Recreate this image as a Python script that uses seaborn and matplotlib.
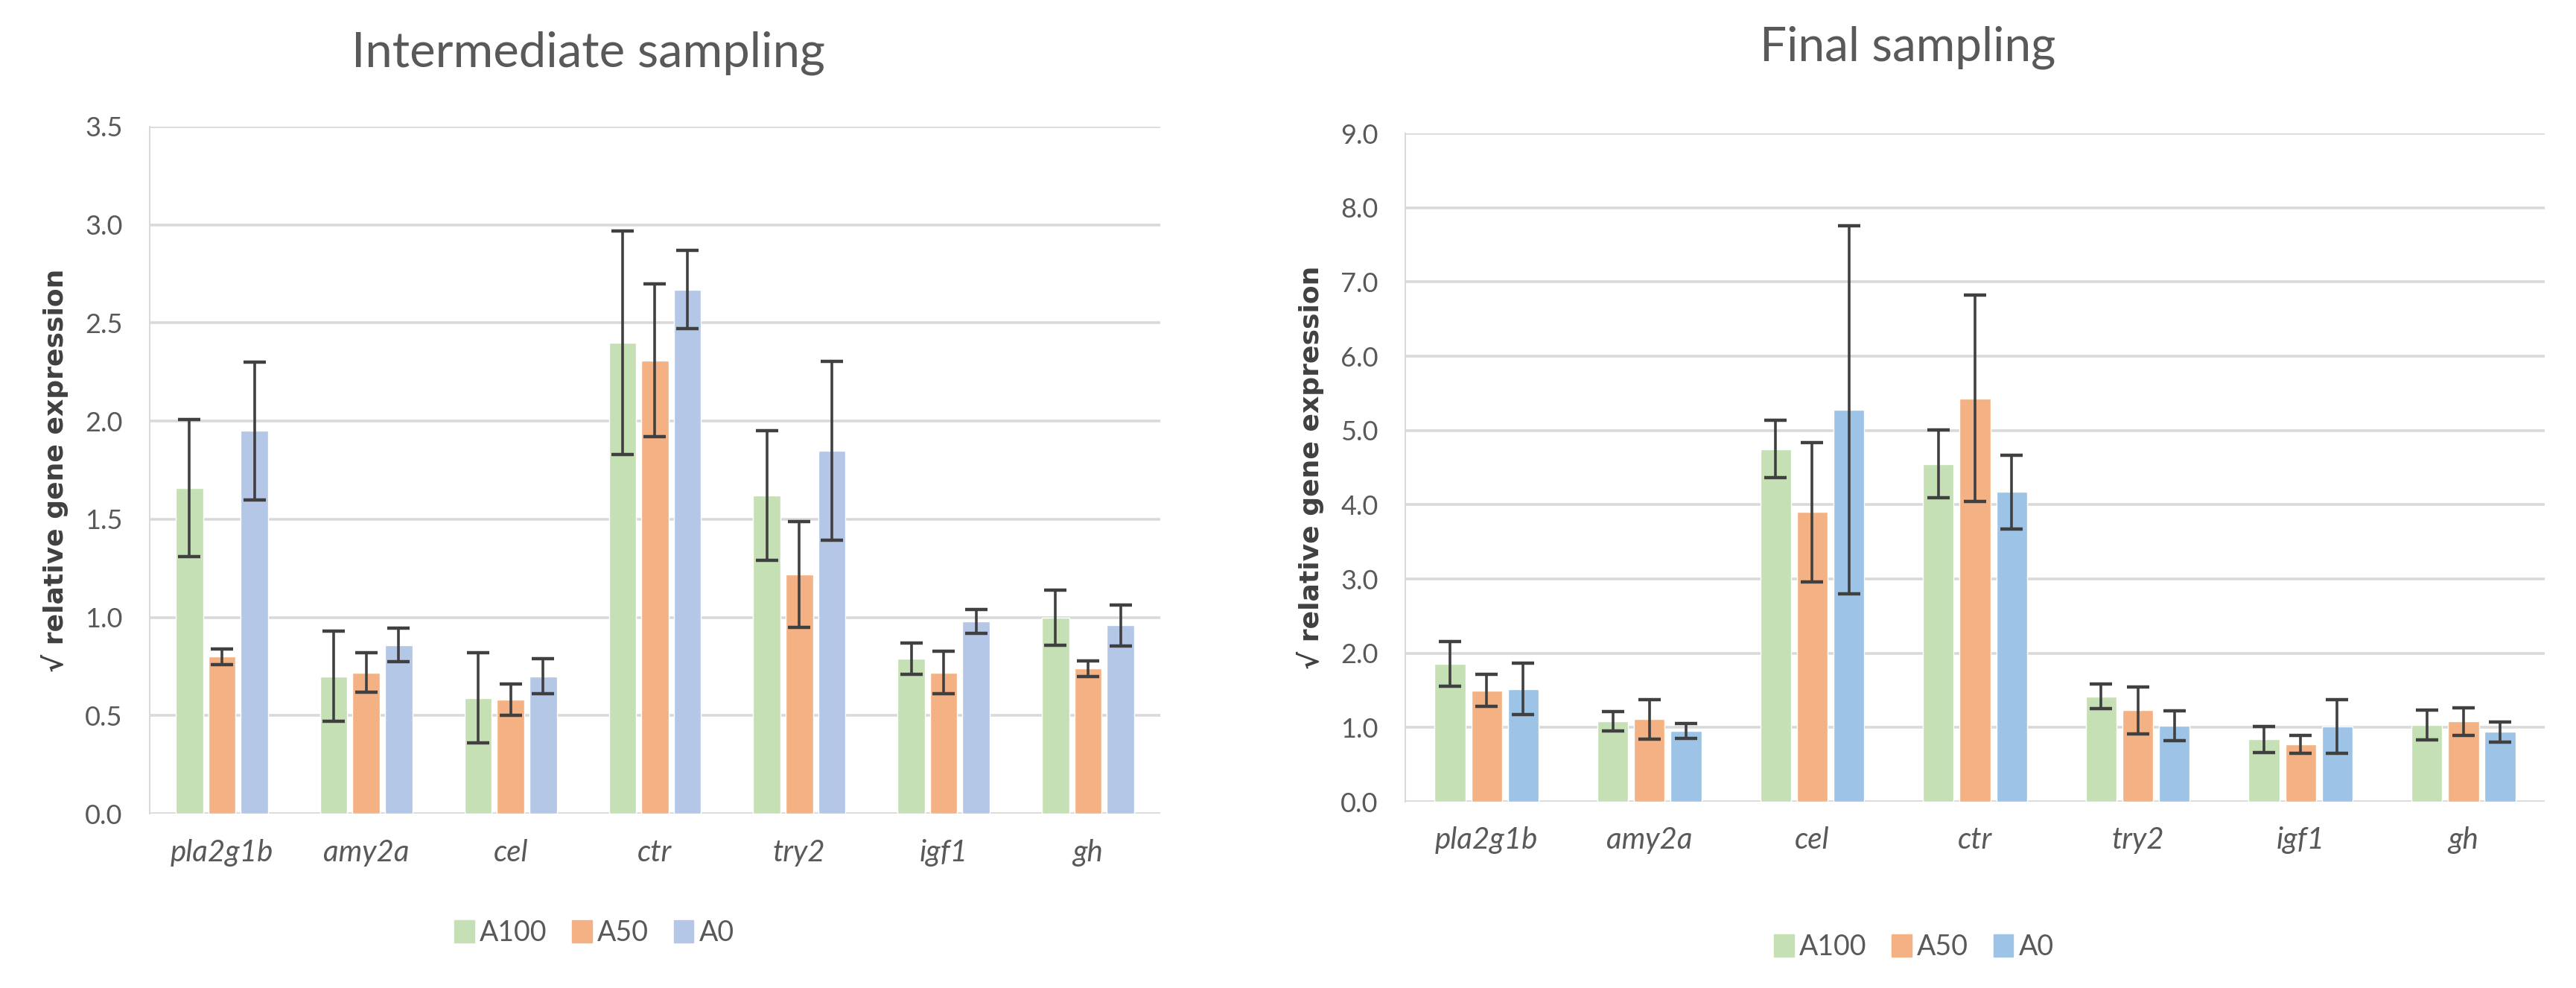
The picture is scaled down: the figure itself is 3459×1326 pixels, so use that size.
import matplotlib
matplotlib.use("Agg")
import matplotlib.pyplot as plt
import pandas as pd
import seaborn as sns

GENES = ["pla2g1b", "amy2a", "cel", "ctr", "try2", "igf1", "gh"]
GROUPS = ["A100", "A50", "A0"]

# intermediate sampling: means and error (symmetric) per group
INTER_A100 = [1.66, 0.70, 0.59, 2.40, 1.62, 0.79, 1.00]
INTER_A50 = [0.80, 0.72, 0.58, 2.31, 1.22, 0.72, 0.74]
INTER_A0 = [1.95, 0.86, 0.70, 2.67, 1.85, 0.98, 0.96]
INTER_A100_ERR = [0.35, 0.23, 0.23, 0.57, 0.33, 0.08, 0.14]
INTER_A50_ERR = [0.04, 0.10, 0.08, 0.39, 0.27, 0.11, 0.04]
INTER_A0_ERR = [0.35, 0.085, 0.09, 0.20, 0.455, 0.06, 0.105]

# final sampling
FINAL_A100 = [1.86, 1.08, 4.75, 4.55, 1.42, 0.84, 1.03]
FINAL_A50 = [1.50, 1.11, 3.90, 5.43, 1.23, 0.77, 1.08]
FINAL_A0 = [1.52, 0.95, 5.28, 4.17, 1.02, 1.01, 0.94]
FINAL_A100_ERR = [0.30, 0.13, 0.39, 0.46, 0.17, 0.175, 0.20]
FINAL_A50_ERR = [0.22, 0.27, 0.94, 1.39, 0.32, 0.12, 0.185]
FINAL_A0_ERR = [0.35, 0.10, 2.48, 0.50, 0.20, 0.36, 0.135]

INTER_TICKS = [0.0, 0.5, 1.0, 1.5, 2.0, 2.5, 3.0, 3.5]
FINAL_TICKS = [0.0, 1.0, 2.0, 3.0, 4.0, 5.0, 6.0, 7.0, 8.0, 9.0]

GREY_TXT = "#595959"
GRID = "#D9D9D9"


def _frame(a100, a50, a0):
    rows = []
    for grp, vals in zip(GROUPS, [a100, a50, a0]):
        for gene, v in zip(GENES, vals):
            rows.append({"gene": gene, "group": grp, "value": v})
    return pd.DataFrame(rows)


def _panel(ax, df, errs, palette, ticks, title_txt, title_pos, title_size, legend_pos):
    sns.barplot(
        data=df, x="gene", y="value", hue="group", order=GENES, hue_order=GROUPS,
        palette=palette, width=0.675, gap=0.16, errorbar=None, saturation=1,
        ax=ax, zorder=2,
    )
    for cont, err in zip(ax.containers, errs):
        xs = [b.get_x() + b.get_width() / 2 for b in cont]
        ys = [b.get_height() for b in cont]
        ax.errorbar(xs, ys, yerr=err, fmt="none", ecolor="#404040",
                    elinewidth=2.6, capsize=11, capthick=3.2, zorder=3)

    ax.set_xlim(-0.5, len(GENES) - 0.5)
    ax.set_ylim(ticks[0], ticks[-1])
    ax.set_yticks(ticks)
    ax.set_yticklabels([f"{t:.1f}" for t in ticks])
    ax.yaxis.grid(True, color=GRID, linewidth=2.6, zorder=0)
    ax.set_axisbelow(True)
    for side in ["top", "right", "bottom"]:
        ax.spines[side].set_visible(False)
    ax.spines["left"].set_color(GRID)
    ax.spines["left"].set_linewidth(1.5)
    ax.tick_params(axis="y", length=0, pad=26, labelsize=26, labelcolor=GREY_TXT)
    ax.tick_params(axis="x", length=0, pad=24, labelsize=29, labelcolor=GREY_TXT)
    for lbl in ax.get_xticklabels():
        lbl.set_fontstyle("italic")
    ax.set_xlabel("")
    ax.set_ylabel("√ relative gene expression", family=["DejaVu Sans"],
                  fontsize=26, fontweight="bold", color="#404040", labelpad=16)

    ax.get_legend().remove()
    handles = [plt.Rectangle((0, 0), 1, 1, color=palette[g]) for g in GROUPS]
    fig = ax.figure
    fig.legend(handles, GROUPS, loc="center", bbox_to_anchor=legend_pos, ncol=3,
               frameon=False, fontsize=27, labelcolor=GREY_TXT,
               handlelength=0.7, handleheight=0.85, handletextpad=0.2,
               columnspacing=0.9)
    fig.text(title_pos[0], title_pos[1], title_txt, ha="center", va="center",
             fontsize=title_size, color=GREY_TXT)


sns.set_theme(style="white")
plt.rcParams["font.family"] = ["Lato", "DejaVu Sans"]

fig = plt.figure(figsize=(34.59, 13.26), dpi=100)
ax1 = fig.add_axes([0.0581, 0.1763, 0.3923, 0.6955])
ax2 = fig.add_axes([0.5455, 0.1885, 0.4424, 0.6765])

_panel(
    ax1, _frame(INTER_A100, INTER_A50, INTER_A0),
    [INTER_A100_ERR, INTER_A50_ERR, INTER_A0_ERR],
    {"A100": "#C5E0B4", "A50": "#F4B183", "A0": "#B4C7E7"},
    INTER_TICKS, "Intermediate sampling", (0.2285, 0.946), 47, (0.2307, 0.0558),
)
_panel(
    ax2, _frame(FINAL_A100, FINAL_A50, FINAL_A0),
    [FINAL_A100_ERR, FINAL_A50_ERR, FINAL_A0_ERR],
    {"A100": "#C5E0B4", "A50": "#F4B183", "A0": "#9DC3E6"},
    FINAL_TICKS, "Final sampling", (0.7407, 0.952), 46, (0.743, 0.0415),
)

fig.savefig("out.png", dpi=100, facecolor="white")
plt.close(fig)
